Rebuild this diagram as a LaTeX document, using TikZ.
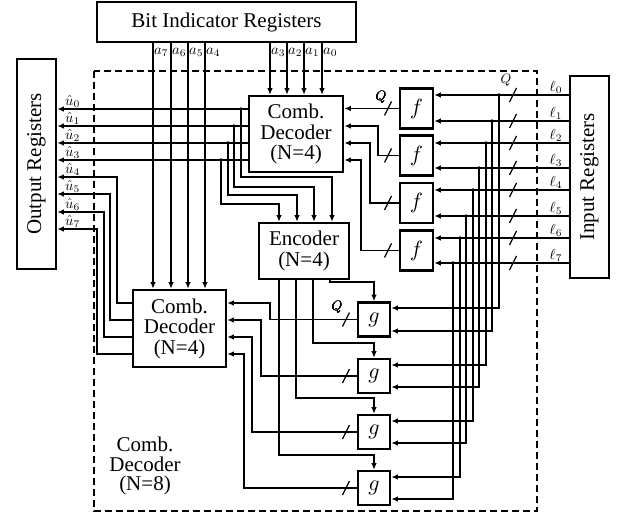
\documentclass[tikz,border=0pt]{standalone}
\usepackage{graphicx}
\usepackage{fontspec}
\setmainfont{Liberation Serif}
\usetikzlibrary{arrows.meta}
\newcommand\slashat[2]{\draw[conn] (#1,#2) +(-3.5,7) -- +(3.5,-7);}
\newcommand\mylbl[1]{\scalebox{1.45}{$#1$}}
\newcommand\myq{\scalebox{1.35}{$Q$}}
\newcommand\mybig[1]{\scalebox{2.2}{$#1$}}
\begin{document}
\begin{tikzpicture}[x=1pt,y=-1pt,
  conn/.style={line width=1.3pt},
  arr/.style={conn,-{Latex[length=6.5pt,width=5.5pt]}},
  blk/.style={draw,line width=2.6pt,fill=white,inner sep=0pt,align=center,font=\fontsize{21}{20.5}\selectfont},
  fg/.style={blk,font=\normalsize},
  lbl/.style={font=\normalsize,inner sep=1pt},
  qlbl/.style={font=\normalsize,inner sep=0pt},
  dotc/.style={fill=black}
]
\useasboundingbox (0,0) rectangle (623,516);
% dashed boundary
\draw[line width=2.2pt,dash pattern=on 7pt off 4pt] (94,71) rectangle (537,511);
% blocks
\node[blk,minimum width=259pt,minimum height=40pt] (bir) at (226.5,22) {Bit Indicator Registers};
\node[blk,minimum width=39pt,minimum height=210pt] (outreg) at (36.5,164) {\rotatebox{90}{Output Registers}};
\node[blk,minimum width=39pt,minimum height=202pt] (inreg) at (589.5,177) {\rotatebox{90}{Input Registers}};
\node[blk,minimum width=94pt,minimum height=76pt] (dec1) at (296,134) {Comb.\\Decoder\\(N=4)};
\node[blk,minimum width=90pt,minimum height=56pt] (enc) at (304,251) {Encoder\\(N=4)};
\node[blk,minimum width=93pt,minimum height=77pt] (dec2) at (179.5,328.5) {Comb.\\Decoder\\(N=4)};
\foreach \n/\y in {f1/108.5,f2/155.5,f3/203,f4/250.5}
  \node[fg,minimum width=33pt,minimum height=40pt] (\n) at (416.5,\y) {\mybig{f}};
\foreach \n/\y in {g1/319.5,g2/376,g3/432,g4/488}
  \node[fg,minimum width=32pt,minimum height=34pt] (\n) at (374,\y) {\mybig{g}};
\node[align=center,font=\fontsize{21}{19.5}\selectfont,inner sep=0pt] (cd8) at (145,466) {Comb.\\Decoder\\(N=8)};
% a lines
\foreach \x/\i in {153/7,171/6,188/5,205/4} {
  \draw[arr] (\x,0 |- bir.south) -- (\x,0 |- dec2.north);
  \node[lbl,anchor=west] (la\i) at (\x,52) {\mylbl{a_{\i}}};
}
\foreach \x/\i in {270/3,287/2,304/1,322/0} {
  \draw[arr] (\x,0 |- bir.south) -- (\x,0 |- dec1.north);
  \node[lbl,anchor=west] (la\i) at (\x,52) {\mylbl{a_{\i}}};
}
% outputs of decoder 1
\foreach \y in {109,126,143,160}
  \draw[arr] (dec1.west |- 0,\y) -- (outreg.east |- 0,\y);
% feeds to encoder
\foreach \dx/\sy/\ty/\tx in {241/109/177/332, 234/126/187/314, 228/143/195/297, 221/160/204/279} {
  \fill[dotc] (\dx,\sy) circle (1.9pt);
  \draw[arr] (\dx,\sy) |- (\tx,\ty) -- (\tx,0 |- enc.north);
}
% outputs of decoder 2
\foreach \y/\x/\o in {303/117/177, 320/110/194, 337/104/212, 354/97/229}
  \draw[arr] (dec2.west |- 0,\y) -| (\x,\o) -- (outreg.east |- 0,\o);
% u labels
\foreach \y [count=\i from 0] in {109,126,143,160,177,194,212,229}
  \node[lbl,anchor=south west] (lu\i) at (64,\y) {\mylbl{\hat{u}_{\i}}};
% f outputs
\draw[arr] (f1.west) -- (dec1.east |- f1.west);
\foreach \f/\x/\y in {f2/378/126, f3/370/143, f4/361/160}
  \draw[arr] (\f.west) -| (\x,\y) -- (dec1.east |- 0,\y);
\foreach \y in {108.5,155.5,203,250.5} \slashat{388}{\y}
\node[qlbl] (qf) at (381,97) {\myq};
% l inputs
\foreach \y/\f [count=\i from 0] in {95/f1,121/f1,143/f2,168/f2,190/f3,216/f3,238/f4,263/f4} {
  \draw[arr] (inreg.west |- 0,\y) -- (\f.east |- 0,\y);
  \slashat{513}{\y}
  \node[lbl,anchor=south] (ll\i) at (556,\y) {\mylbl{\ell_{\i}}};
}
\node[qlbl] (ql) at (506,80) {\myq};
% l feeds to g
\foreach \y/\d/\g/\t in {95/499/g1/308, 121/492/g1/331, 143/486/g2/365, 168/479/g2/387, 190/473/g3/421, 216/466/g3/443, 238/460/g4/477, 263/453/g4/499} {
  \fill[dotc] (\d,\y) circle (1.9pt);
  \draw[arr] (\d,\y) |- (\g.east |- 0,\t);
}
% encoder outputs to g
\foreach \x/\y/\g in {330/282/g1, 313/343/g2, 296/398/g3, 279/455/g4}
  \draw[arr] (\x,0 |- enc.south) |- (\g.north |- 0,\y) -- (\g.north);
% g outputs
\foreach \g/\x/\y in {g1/270/303, g2/261/320, g3/252/337, g4/244/354}
  \draw[arr] (\g.west) -| (\x,\y) -- (dec2.east |- 0,\y);
\foreach \y in {319.5,376,432,488} \slashat{346}{\y}
\node[qlbl] (qg) at (337,307) {\myq};
\end{tikzpicture}
\end{document}
